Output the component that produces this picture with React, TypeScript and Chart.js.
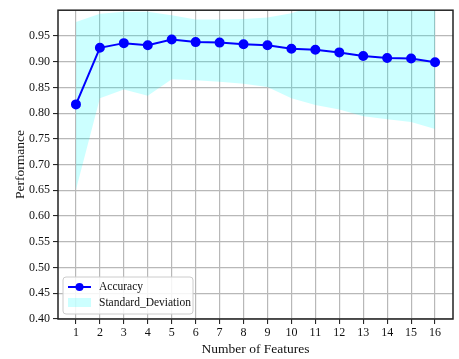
import React, { useEffect, useRef } from "react";
import { Chart, registerables } from "chart.js";

Chart.register(...registerables);

const features = [1, 2, 3, 4, 5, 6, 7, 8, 9, 10, 11, 12, 13, 14, 15, 16];
const accuracy = [0.817, 0.927, 0.936, 0.932, 0.943, 0.938, 0.937, 0.934, 0.932, 0.925, 0.923, 0.918, 0.911, 0.907, 0.906, 0.899];
const stdUpper = [0.977, 0.993, 0.997, 0.997, 0.99, 0.982, 0.982, 0.983, 0.986, 0.994, 1.01, 1.015, 1.02, 1.02, 1.025, 1.03];
const stdLower = [0.651, 0.829, 0.846, 0.834, 0.866, 0.864, 0.861, 0.857, 0.851, 0.829, 0.816, 0.807, 0.794, 0.788, 0.783, 0.769];
const yTickValues = [0.4, 0.45, 0.5, 0.55, 0.6, 0.65, 0.7, 0.75, 0.8, 0.85, 0.9, 0.95];

const SERIF = "'Liberation Serif', 'DejaVu Serif', serif";
const LINE_COLOR = "#0000ff";
const BAND_COLOR = "rgba(0,255,255,0.2)";

const framePlugin = {
  id: "frameAndLegend",
  afterDraw(chart: any) {
    const { ctx, chartArea } = chart;
    const { left, right, top, bottom } = chartArea;
    ctx.save();
    // frame
    ctx.strokeStyle = "#222";
    ctx.lineWidth = 1.5;
    ctx.strokeRect(left, top, right - left, bottom - top);

    // legend
    const bx = 63, by = 277, bw = 130, bh = 37;
    ctx.beginPath();
    const r = 3;
    ctx.moveTo(bx + r, by);
    ctx.lineTo(bx + bw - r, by);
    ctx.quadraticCurveTo(bx + bw, by, bx + bw, by + r);
    ctx.lineTo(bx + bw, by + bh - r);
    ctx.quadraticCurveTo(bx + bw, by + bh, bx + bw - r, by + bh);
    ctx.lineTo(bx + r, by + bh);
    ctx.quadraticCurveTo(bx, by + bh, bx, by + bh - r);
    ctx.lineTo(bx, by + r);
    ctx.quadraticCurveTo(bx, by, bx + r, by);
    ctx.closePath();
    ctx.fillStyle = "rgba(255,255,255,0.85)";
    ctx.fill();
    ctx.strokeStyle = "#cccccc";
    ctx.lineWidth = 1;
    ctx.stroke();

    // line sample
    ctx.strokeStyle = LINE_COLOR;
    ctx.lineWidth = 2;
    ctx.beginPath();
    ctx.moveTo(68, 287);
    ctx.lineTo(91, 287);
    ctx.stroke();
    ctx.fillStyle = LINE_COLOR;
    ctx.beginPath();
    ctx.arc(79.5, 287, 4, 0, Math.PI * 2);
    ctx.fill();

    // patch sample
    ctx.fillStyle = BAND_COLOR;
    ctx.fillRect(68, 298, 23, 9);

    ctx.fillStyle = "#111";
    ctx.font = `11.5px ${SERIF}`;
    ctx.textBaseline = "middle";
    ctx.textAlign = "left";
    ctx.fillText("Accuracy", 99, 287);
    ctx.fillText("Standard_Deviation", 99, 303);
    ctx.restore();
  },
};

export default function App() {
  const ref = useRef<HTMLCanvasElement | null>(null);

  useEffect(() => {
    document.body.style.margin = "0";
    document.body.style.background = "#ffffff";
    const canvas = ref.current;
    if (!canvas) return;
    const chart = new Chart(canvas, {
      type: "line",
      data: {
        datasets: [
          {
            label: "Accuracy",
            data: features.map((f, i) => ({ x: f, y: accuracy[i] })),
            borderColor: LINE_COLOR,
            backgroundColor: LINE_COLOR,
            borderWidth: 2,
            pointRadius: 4,
            pointBackgroundColor: LINE_COLOR,
            pointBorderColor: LINE_COLOR,
            fill: false,
            tension: 0,
            order: 0,
          },
          {
            label: "lower",
            data: features.map((f, i) => ({ x: f, y: stdLower[i] })),
            borderWidth: 0,
            borderColor: "rgba(0,0,0,0)",
            pointRadius: 0,
            fill: false,
            tension: 0,
            order: 2,
          },
          {
            label: "Standard_Deviation",
            data: features.map((f, i) => ({ x: f, y: stdUpper[i] })),
            borderWidth: 0,
            borderColor: "rgba(0,0,0,0)",
            backgroundColor: BAND_COLOR,
            pointRadius: 0,
            fill: 1,
            tension: 0,
            order: 1,
          },
        ],
      },
      options: {
        responsive: false,
        animation: false,
        devicePixelRatio: 1,
        layout: { padding: { top: 4, right: 2, left: 0, bottom: 0 } },
        plugins: {
          legend: { display: false },
          tooltip: { enabled: false },
        },
        scales: {
          x: {
            type: "linear",
            min: 0.25,
            max: 16.75,
            afterBuildTicks: (scale: any) => {
              scale.ticks = features.map((v) => ({ value: v }));
            },
            afterFit: (scale: any) => {
              scale.height = 40;
            },
            ticks: {
              color: "#111",
              font: { family: SERIF, size: 12 },
              padding: 2,
              maxRotation: 0,
              autoSkip: false,
              callback: (v: any) => String(v),
            },
            grid: {
              color: "#b8b8b8",
              lineWidth: 1.2,
              tickColor: "#111",
              tickLength: 5,
              tickWidth: 1,
            },
            border: { display: false },
            title: {
              display: true,
              text: "Number of Features",
              color: "#111",
              font: { family: SERIF, size: 13.5 },
              padding: { top: 0, bottom: 1 },
            },
          },
          y: {
            type: "linear",
            min: 0.4,
            max: 1.0,
            afterBuildTicks: (scale: any) => {
              scale.ticks = yTickValues.map((v) => ({ value: v }));
            },
            afterFit: (scale: any) => {
              scale.width = 58;
            },
            ticks: {
              color: "#111",
              font: { family: SERIF, size: 12 },
              padding: 3,
              autoSkip: false,
              callback: (v: any) => Number(v).toFixed(2),
            },
            grid: {
              color: "#b8b8b8",
              lineWidth: 1.2,
              tickColor: "#111",
              tickLength: 5,
              tickWidth: 1,
            },
            border: { display: false },
            title: {
              display: true,
              text: "Performance",
              color: "#111",
              font: { family: SERIF, size: 13.5 },
              padding: { top: 12, bottom: 0 },
            },
          },
        },
      },
      plugins: [framePlugin],
    } as any);
    return () => chart.destroy();
  }, []);

  return (
    <canvas
      ref={ref}
      width={459}
      height={359}
      style={{ display: "block", width: "459px", height: "359px" }}
    />
  );
}
